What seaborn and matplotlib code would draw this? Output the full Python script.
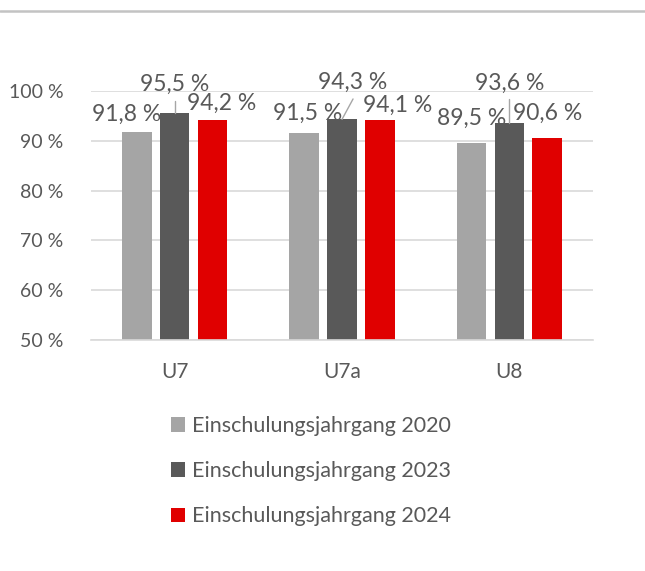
import matplotlib
matplotlib.use("Agg")
import matplotlib.pyplot as plt
from matplotlib.lines import Line2D
from matplotlib.patches import Patch
import seaborn as sns
import pandas as pd

categories = ["U7", "U7a", "U8"]
series_names = ["Einschulungsjahrgang 2020", "Einschulungsjahrgang 2023", "Einschulungsjahrgang 2024"]
values_2020 = [91.8, 91.5, 89.5]
values_2023 = [95.5, 94.3, 93.6]
values_2024 = [94.2, 94.1, 90.6]
y_ticks = [50, 60, 70, 80, 90, 100]

colors = ["#A5A5A5", "#595959", "#E00000"]
text_color = "#595959"
grid_color = "#D9D9D9"

rows = []
for name, vals in zip(series_names, [values_2020, values_2023, values_2024]):
    for c, v in zip(categories, vals):
        rows.append({"cat": c, "series": name, "value": v})
df = pd.DataFrame(rows)

sns.set_style("white")
plt.rcParams["font.family"] = ["Lato", "DejaVu Sans"]

fig = plt.figure(figsize=(6.45, 5.71), dpi=100)
ax = fig.add_axes([91 / 645, 1 - 340 / 571, (593 - 91) / 645, (340 - 91) / 571])

sns.barplot(data=df, x="cat", y="value", hue="series", order=categories,
            hue_order=series_names, palette=colors, width=0.68, gap=0.22,
            ax=ax, legend=False, saturation=1, linewidth=0)

ax.set_ylim(50, 100)
ax.set_xlim(-0.5, 2.5)
ax.set_yticks(y_ticks)
ax.set_yticklabels([f"{t} %" for t in y_ticks])
ax.set_xlabel("")
ax.set_ylabel("")
ax.grid(axis="y", color=grid_color, linewidth=1.2)
ax.set_axisbelow(True)
for s in ["top", "right", "left"]:
    ax.spines[s].set_visible(False)
ax.spines["bottom"].set_color(grid_color)
ax.spines["bottom"].set_linewidth(1.2)
ax.tick_params(axis="both", length=0, colors=text_color)
ax.tick_params(axis="y", pad=20, labelsize=14)
ax.tick_params(axis="x", pad=16, labelsize=15)

# data label positions (offsets relative to category centre, label centre y)
label_pos = [
    [(-0.285, 95.4), (0.0, 101.4), (0.282, 97.6)],
    [(-0.203, 95.6), (0.066, 101.8), (0.33, 97.2)],
    [(-0.225, 94.6), (0.0, 101.6), (0.229, 95.6)],
]
leader_top = [98.0, 98.4, 98.4]
bar_offsets = [-0.227, 0.0, 0.227]
all_vals = [values_2020, values_2023, values_2024]
for ci in range(len(categories)):
    for si in range(3):
        dx, y = label_pos[ci][si]
        v = all_vals[si][ci]
        ax.text(ci + dx, y, f"{v:.1f} %".replace(".", ","), ha="center", va="center",
                fontsize=16.5, color=text_color, clip_on=False)
    # leader line for middle bar
    dx, y = label_pos[ci][1]
    ax.plot([ci + dx, ci + bar_offsets[1]], [leader_top[ci], values_2023[ci]],
            color="#A6A6A6", linewidth=1.0, clip_on=False)

# top border line
fig.add_artist(Line2D([0, 1], [1 - 11 / 571, 1 - 11 / 571], color="#C3C3C3",
                      linewidth=1.8, transform=fig.transFigure))

handles = [Patch(facecolor=c, edgecolor="none") for c in colors]
leg = fig.legend(handles, series_names, loc="upper left",
                 bbox_to_anchor=(171 / 645, 1 - 416 / 571), frameon=False,
                 fontsize=15.5, labelcolor=text_color, handlelength=0.65,
                 handleheight=0.65, handletextpad=0.32, labelspacing=1.17,
                 borderpad=0, borderaxespad=0)

fig.savefig("out.png", dpi=100)
